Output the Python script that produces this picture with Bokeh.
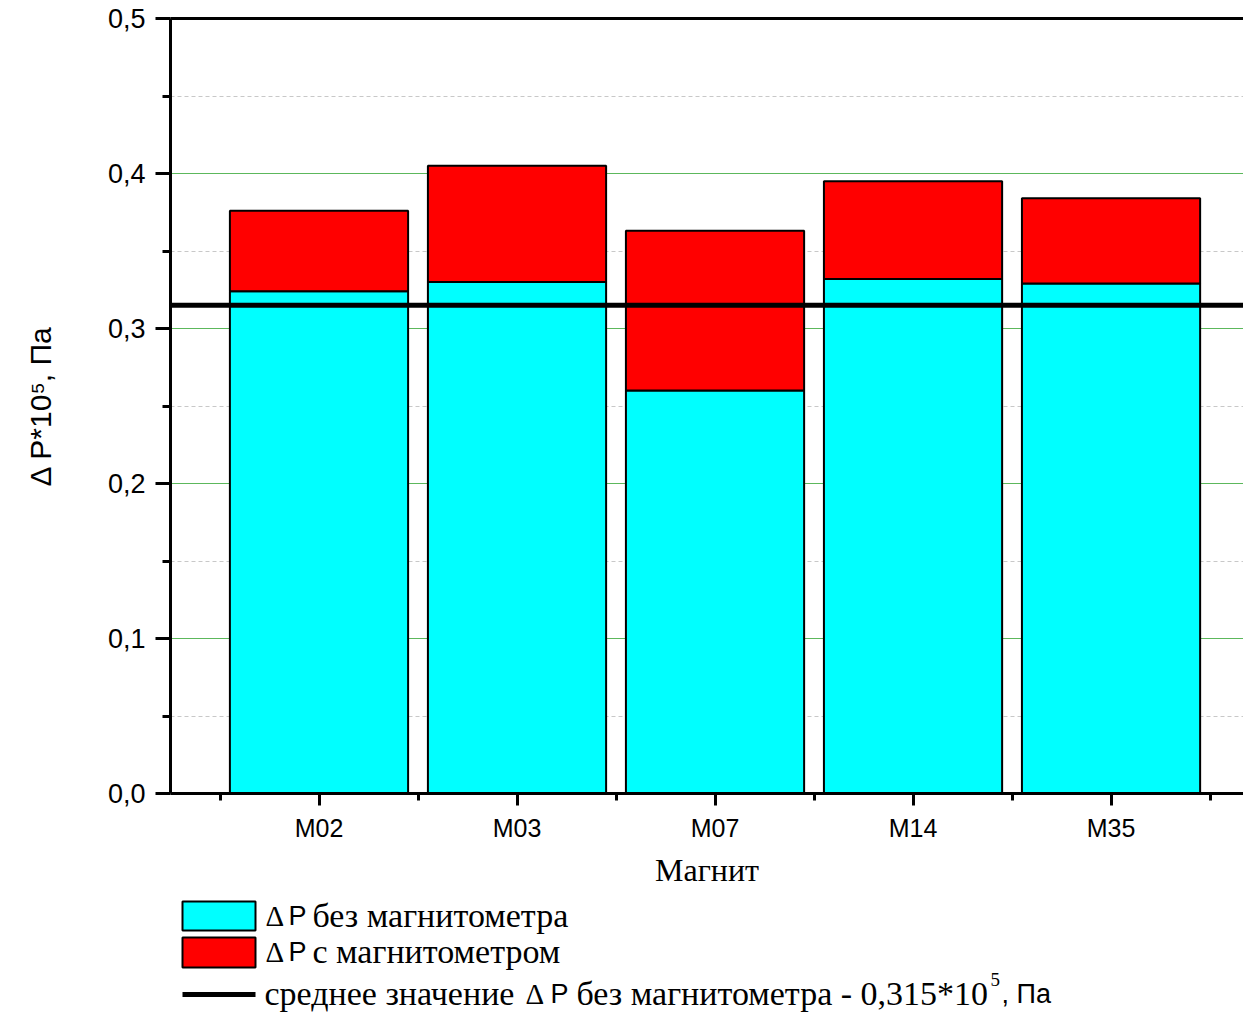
from bokeh.plotting import figure
from bokeh.models import Range1d, FixedTicker, Span, LinearAxis
from bokeh.layouts import column
from bokeh.core.properties import value
from bokeh.embed import file_html
from bokeh.resources import INLINE

# ---- data ----
categories = ["M02", "M03", "M07", "M14", "M35"]
dp_without = [0.324, 0.330, 0.260, 0.332, 0.329]   # Δ P без магнитометра
dp_with = [0.376, 0.405, 0.363, 0.395, 0.384]      # Δ P с магнитометром
mean_value = 0.315
y_ticks = [0.0, 0.1, 0.2, 0.3, 0.4, 0.5]
y_tick_labels = ["0,0", "0,1", "0,2", "0,3", "0,4", "0,5"]
y_minor = [0.05, 0.15, 0.25, 0.35, 0.45]

xs = list(range(1, len(categories) + 1))
x_minor = [x - 0.5 for x in xs] + [xs[-1] + 0.5]

SANS = "Liberation Sans"
SERIF = "Liberation Serif"

p = figure(width=1243, height=890, output_backend="svg", toolbar_location=None,
           x_range=Range1d(0.25, 5.669), y_range=Range1d(0, 0.5),
           min_border_left=170, min_border_top=18, min_border_right=0, min_border_bottom=94)
p.frame_align = False
p.outline_line_color = None
p.background_fill_color = "white"
p.border_fill_color = "white"

p.vbar(x=xs, bottom=0, top=dp_without, width=0.9, fill_color="#00FFFF",
       line_color="black", line_width=2)
p.vbar(x=xs, bottom=dp_without, top=dp_with, width=0.9, fill_color="#FF0000",
       line_color="black", line_width=2)

p.add_layout(Span(location=mean_value, dimension="width", line_color="black", line_width=5))

# axes
xa = p.xaxis[0]
xa.ticker = FixedTicker(ticks=xs, minor_ticks=x_minor)
xa.major_label_overrides = {x: c for x, c in zip(xs, categories)}
xa.axis_line_width = 3
xa.major_tick_line_width = 3
xa.minor_tick_line_width = 3
xa.major_tick_out = 12
xa.major_tick_in = 0
xa.minor_tick_out = 7
xa.minor_tick_in = 0
xa.major_label_text_font = SANS
xa.major_label_text_font_size = "25px"
xa.major_label_text_color = "black"
xa.major_label_standoff = 8
xa.axis_label = "Магнит"
xa.axis_label_text_font = SERIF
xa.axis_label_text_font_size = "32px"
xa.axis_label_text_font_style = "normal"
xa.axis_label_text_color = "black"
xa.axis_label_standoff = 7

ya = p.yaxis[0]
ya.ticker = FixedTicker(ticks=y_ticks, minor_ticks=y_minor)
ya.major_label_overrides = {t: l for t, l in zip(y_ticks, y_tick_labels)}
ya.axis_line_width = 3
ya.major_tick_line_width = 3
ya.minor_tick_line_width = 3
ya.major_tick_out = 15
ya.major_tick_in = 0
ya.minor_tick_out = 8
ya.minor_tick_in = 0
ya.major_label_text_font = SANS
ya.major_label_text_font_size = "27px"
ya.major_label_text_color = "black"
ya.major_label_standoff = 10
ya.axis_label = "Δ P*10⁵, Па"
ya.axis_label_text_font = SANS
ya.axis_label_text_font_size = "30px"
ya.axis_label_text_font_style = "normal"
ya.axis_label_text_color = "black"
ya.axis_label_standoff = 48

top_axis = LinearAxis(axis_line_width=3, major_tick_line_color=None, minor_tick_line_color=None,
                      major_label_text_font_size="0px", major_label_standoff=0)
top_axis.ticker = FixedTicker(ticks=[])
p.add_layout(top_axis, "above")

# grids
p.xgrid.grid_line_color = None
p.ygrid.ticker = FixedTicker(ticks=y_ticks, minor_ticks=y_minor)
p.ygrid.grid_line_color = "#5cb85c"
p.ygrid.grid_line_width = 1
p.ygrid.minor_grid_line_color = "#c8c8c8"
p.ygrid.minor_grid_line_dash = "4 3"
p.ygrid.minor_grid_line_width = 1

# ---- legend (separate canvas below) ----
leg = figure(width=1243, height=123, output_backend="svg", toolbar_location=None,
             x_range=Range1d(0, 1243), y_range=Range1d(123, 0),
             x_axis_location=None, y_axis_location=None, min_border=0,
             min_border_left=0, min_border_right=0, min_border_top=0, min_border_bottom=0)
leg.frame_align = False
leg.outline_line_color = None
leg.grid.visible = False
leg.background_fill_color = "white"
leg.border_fill_color = "white"

leg.rect(x=[218.5, 218.5], y=[25.5, 62], width=73, height=[29, 30],
         fill_color=["#00FFFF", "#FF0000"], line_color="black", line_width=2)
leg.line(x=[182, 255], y=[104, 104], line_color="black", line_width=5)

serif_x = [312, 312, 264, 576]
serif_y = [25, 61, 103, 103]
serif_t = ["без магнитометра", "с магнитометром",
           "среднее значение", "без магнитометра - 0,315*10"]
leg.text(x=serif_x, y=serif_y, text=serif_t, text_font=value(SERIF),
         text_font_size=value("34px"), text_baseline="alphabetic", text_color="black")
leg.text(x=[265, 265, 525], y=[25, 61, 103], text=["Δ", "Δ", "Δ"], text_font=value(SERIF),
         text_font_size=value("29px"), text_baseline="alphabetic", text_color="black")
leg.text(x=[990], y=[89], text=["5"], text_font=value(SERIF),
         text_font_size=value("19px"), text_baseline="alphabetic", text_color="black")
leg.text(x=[288, 288, 550, 1001], y=[25, 61, 103, 103], text=["P", "P", "P", ", Па"],
         text_font=value(SANS), text_font_size=value("27px"),
         text_baseline="alphabetic", text_color="black")

layout = column(p, leg, spacing=0)
open("out.html", "w").write(file_html(layout, INLINE))
